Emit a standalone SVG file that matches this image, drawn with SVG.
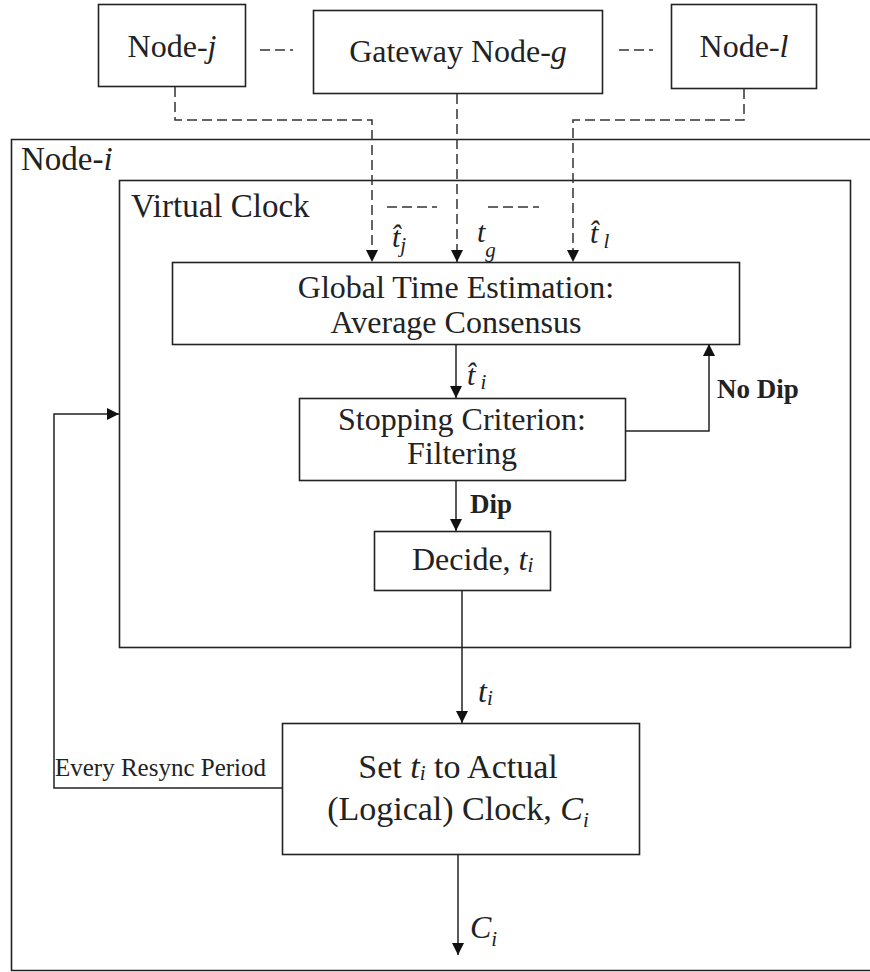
<svg xmlns="http://www.w3.org/2000/svg" width="870" height="972" viewBox="0 0 870 972">
  <style>
    .box { fill: #ffffff; stroke: #222222; stroke-width: 1.6; }
    .frame { fill: none; stroke: #222222; stroke-width: 1.6; }
    .wire { fill: none; stroke: #222222; stroke-width: 1.5; }
    .dash { fill: none; stroke: #333333; stroke-width: 1.5; stroke-dasharray: 10 5; }
    .t { font-family: "Liberation Serif", "Times New Roman", serif; font-size: 32px; fill: #222222; }
    .big { font-size: 34px; }
    .hdr { font-size: 33px; }
    .small { font-size: 25px; }
    .bold { font-weight: bold; font-size: 27px; }
    .it { font-style: italic; }
    .var { font-style: italic; font-size: 30px; }
    .sub { font-style: italic; font-size: 21px; }
    .mid { text-anchor: middle; }
  </style>
  <defs>
    <marker id="arrow" markerUnits="userSpaceOnUse" markerWidth="12" markerHeight="14" refX="12" refY="6" orient="auto">
      <path d="M0,0 L12,6 L0,12 Z" fill="#111111"/>
    </marker>
  </defs>

  <rect width="870" height="972" fill="#ffffff"/>

  <!-- Node-i container -->
  <g id="node-i">
    <path class="frame" d="M870,139.5 H11.5 V970.5 H870"/>
    <text class="t hdr" x="21" y="170">Node-<tspan class="it">i</tspan></text>
  </g>

  <!-- Virtual clock container -->
  <g id="virtual-clock">
    <rect class="frame" x="119.5" y="180.5" width="731" height="467"/>
    <text class="t hdr" x="131" y="217">Virtual Clock</text>
  </g>

  <!-- Neighbour nodes -->
  <g id="node-j">
    <rect class="box" x="98.5" y="4.5" width="147" height="82"/>
    <text class="t mid" x="172" y="57">Node-<tspan class="it">j</tspan></text>
  </g>
  <g id="gateway-node-g">
    <rect class="box" x="313.5" y="10.5" width="289" height="83"/>
    <text class="t mid" x="458" y="62">Gateway Node-<tspan class="it">g</tspan></text>
  </g>
  <g id="node-l">
    <rect class="box" x="671.5" y="4.5" width="145" height="84"/>
    <text class="t mid" x="744" y="57">Node-<tspan class="it">l</tspan></text>
  </g>

  <!-- Processing blocks -->
  <g id="global-time-estimation">
    <rect class="box" x="172.5" y="262.5" width="567" height="82"/>
    <text class="t mid" x="456" y="298">Global Time Estimation:</text>
    <text class="t mid" x="456" y="333">Average Consensus</text>
  </g>
  <g id="stopping-criterion">
    <rect class="box" x="299.5" y="398.5" width="326" height="82"/>
    <text class="t mid" x="462" y="430">Stopping Criterion:</text>
    <text class="t mid" x="462" y="464">Filtering</text>
  </g>
  <g id="decide">
    <rect class="box" x="374.5" y="531.5" width="176" height="59"/>
    <text class="t" x="412" y="570">Decide, <tspan class="it">t</tspan><tspan class="sub" dy="2">i</tspan></text>
  </g>
  <g id="set-clock">
    <rect class="box" x="282.5" y="723.5" width="357" height="131"/>
    <text class="t big mid" x="458" y="778">Set <tspan class="it">t</tspan><tspan class="sub" dy="2">i</tspan><tspan dy="-2"> to Actual</tspan></text>
    <text class="t big mid" x="458" y="820">(Logical) Clock, <tspan class="it">C</tspan><tspan class="sub" dy="7">i</tspan></text>
  </g>

  <!-- Connectors -->
  <g id="connectors">
    <!-- links between the neighbour nodes -->
    <path class="dash" d="M260,50 H293" stroke-dasharray="12 9"/>
    <path class="dash" d="M619,50 H653" stroke-dasharray="12 9"/>

    <!-- timestamps received from neighbours -->
    <path class="dash" d="M175,87 V120 H372 V262" marker-end="url(#arrow)"/>
    <path class="dash" d="M457,94 V262" marker-end="url(#arrow)"/>
    <path class="dash" d="M744,89 V120 H573 V262" marker-end="url(#arrow)"/>

    <!-- overbars above the received estimates -->
    <path class="dash" d="M387,207 H437" stroke-dasharray="12 7"/>
    <path class="dash" d="M488,207 H539" stroke-dasharray="12 7"/>

    <!-- internal flow -->
    <path class="wire" d="M456,344 V398" marker-end="url(#arrow)"/>
    <path class="wire" d="M625.5,431 H709 V344" marker-end="url(#arrow)"/>
    <path class="wire" d="M456,480 V531" marker-end="url(#arrow)"/>
    <path class="wire" d="M462,590 V723" marker-end="url(#arrow)"/>
    <path class="wire" d="M458,854 V955" marker-end="url(#arrow)"/>
    <path class="wire" d="M282.5,788 H54 V414 H119" marker-end="url(#arrow)"/>

    <!-- connector labels -->
    <text class="t var" x="392" y="247">t̂<tspan class="sub" dy="5">j</tspan></text>
    <text class="t var" x="477" y="242">t<tspan class="sub" dy="15">g</tspan></text>
    <text class="t var" x="590" y="243">t̂<tspan class="sub" dy="5"> l</tspan></text>
    <text class="t var" x="467" y="385">t̂<tspan class="sub" dy="4"> i</tspan></text>

    <text class="t bold" x="717" y="398">No Dip</text>
    <text class="t bold" x="470" y="513">Dip</text>

    <text class="t it" x="478" y="702">t<tspan class="sub" dy="3">i</tspan></text>

    <text class="t small" x="55" y="776">Every Resync Period</text>

    <text class="t it" x="470" y="938">C<tspan class="sub" dy="8">i</tspan></text>
  </g>
</svg>
